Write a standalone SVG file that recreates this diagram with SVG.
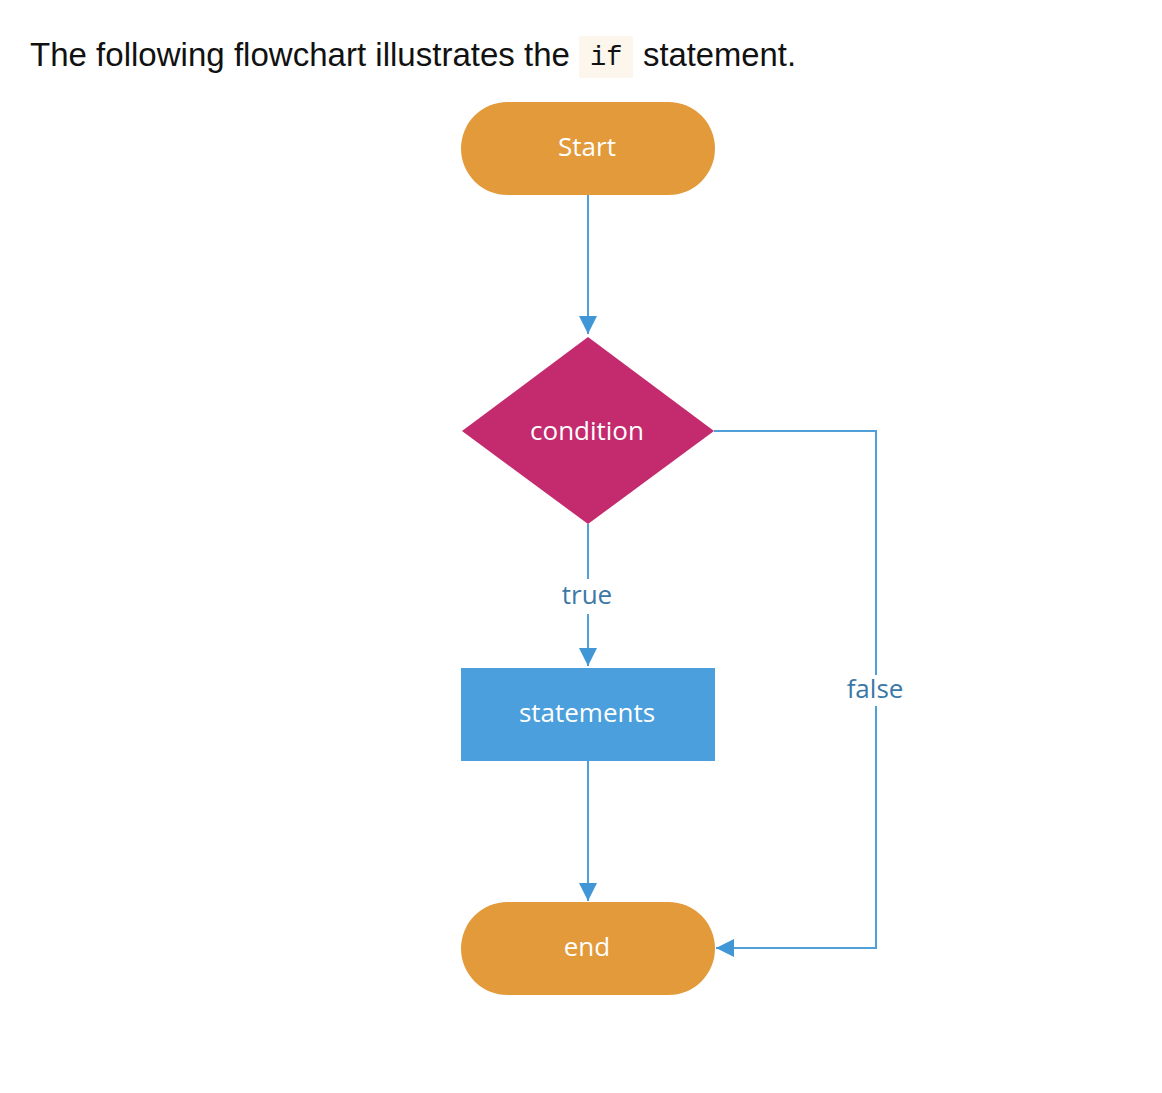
<svg xmlns="http://www.w3.org/2000/svg" width="1162" height="1093" viewBox="0 0 1162 1093">
<defs>
<style>
.term{fill:#e39a3a}
.dec{fill:#c42b6e}
.proc{fill:#4a9fdc}
.nt{font-family:"Open Sans","Noto Sans",sans-serif;font-size:26px;fill:#ffffff;text-anchor:middle}
.lbl{font-family:"Open Sans","Noto Sans",sans-serif;font-size:26px;fill:#3c78a6;text-anchor:middle}
.edge{fill:none;stroke:#4f9fd8;stroke-width:2}
.hdr{font-family:"Liberation Sans",Arial,sans-serif;font-size:33px;fill:#111111}
.code{font-family:"Liberation Mono","DejaVu Sans Mono",monospace;font-size:27px;fill:#111111}
</style>
<marker id="arrB" viewBox="0 0 18 18" refX="18" refY="9" markerWidth="18" markerHeight="18" markerUnits="userSpaceOnUse" orient="auto">
<path d="M0,0 L18,9 L0,18 z" fill="#4196d6"/>
</marker>
</defs>
<rect width="1162" height="1093" fill="#ffffff"/>
<g id="header">
<rect x="579" y="36" width="54" height="42" fill="#fdf6ec"/>
<text class="hdr" x="30" y="66" textLength="540" lengthAdjust="spacingAndGlyphs">The following flowchart illustrates the</text>
<text class="code" x="590" y="65">if</text>
<text class="hdr" x="643" y="66" textLength="153" lengthAdjust="spacingAndGlyphs">statement.</text>
</g>
<g id="connectors">
<path class="edge" d="M588,195 V334" marker-end="url(#arrB)"/>
<path class="edge" d="M588,524 V579"/>
<path class="edge" d="M588,614 V666" marker-end="url(#arrB)"/>
<path class="edge" d="M588,761 V901" marker-end="url(#arrB)"/>
<path class="edge" d="M714,431 H876 V675"/>
<path class="edge" d="M876,706 V948 H716" marker-end="url(#arrB)"/>
<text class="lbl" x="587" y="604">true</text>
<text class="lbl" x="875" y="698">false</text>
</g>
<g id="start">
<rect class="term" x="461" y="102" width="254" height="93" rx="46.5" ry="46.5"/>
<text class="nt" x="587" y="156">Start</text>
</g>
<g id="condition">
<polygon class="dec" points="588,337 714,431 588,524 462,431"/>
<text class="nt" x="587" y="440">condition</text>
</g>
<g id="statements">
<rect class="proc" x="461" y="668" width="254" height="93"/>
<text class="nt" x="587" y="722">statements</text>
</g>
<g id="end">
<rect class="term" x="461" y="902" width="254" height="93" rx="46.5" ry="46.5"/>
<text class="nt" x="587" y="956">end</text>
</g>
</svg>
